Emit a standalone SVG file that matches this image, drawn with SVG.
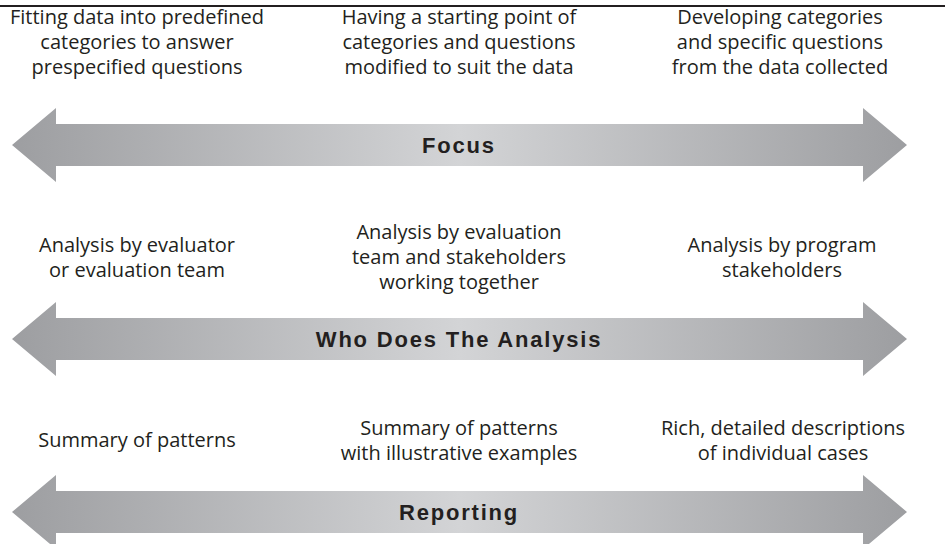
<svg xmlns="http://www.w3.org/2000/svg" width="945" height="544" viewBox="0 0 945 544">
  <defs>
    <linearGradient id="arrowGrad" x1="12" y1="0" x2="907" y2="0" gradientUnits="userSpaceOnUse">
      <stop offset="0" stop-color="#9d9ea1"/>
      <stop offset="0.5" stop-color="#d3d4d6"/>
      <stop offset="1" stop-color="#9d9ea1"/>
    </linearGradient>
  </defs>
  <style>
    .arrow { fill: url(#arrowGrad); }
    .txt { font-family: "Open Sans", "Liberation Sans", sans-serif; font-size: 20px; fill: #231f20; text-anchor: middle; }
    .lbl { font-family: "Liberation Sans", Arial, sans-serif; font-size: 22px; font-weight: bold; fill: #231f20; text-anchor: middle; letter-spacing: 1.8px; }
  </style>
  <rect width="945" height="544" fill="#ffffff"/>
  <line x1="0" y1="6" x2="945" y2="6" stroke="#231f20" stroke-width="2"/>

  <g id="connectors">
    <polygon class="arrow" points="12,145 56,108 56,124 863,124 863,108 907,145 863,182 863,166 56,166 56,182"/>
    <polygon class="arrow" points="12,339 56,302 56,318 863,318 863,302 907,339 863,376 863,360 56,360 56,376"/>
    <polygon class="arrow" points="12,512 56,475 56,491 863,491 863,475 907,512 863,549 863,533 56,533 56,549"/>
  </g>

  <g id="label-focus"><text class="lbl" x="459" y="153">Focus</text></g>
  <g id="label-who"><text class="lbl" x="459" y="347">Who Does The Analysis</text></g>
  <g id="label-reporting"><text class="lbl" x="459" y="520">Reporting</text></g>

  <g id="focus-left">
    <text class="txt" x="137" y="24">Fitting data into predefined</text>
    <text class="txt" x="137" y="49">categories to answer</text>
    <text class="txt" x="137" y="74">prespecified questions</text>
  </g>
  <g id="focus-middle">
    <text class="txt" x="459" y="24">Having a starting point of</text>
    <text class="txt" x="459" y="49">categories and questions</text>
    <text class="txt" x="459" y="74">modified to suit the data</text>
  </g>
  <g id="focus-right">
    <text class="txt" x="780" y="24">Developing categories</text>
    <text class="txt" x="780" y="49">and specific questions</text>
    <text class="txt" x="780" y="74">from the data collected</text>
  </g>

  <g id="who-left">
    <text class="txt" x="137" y="252">Analysis by evaluator</text>
    <text class="txt" x="137" y="277">or evaluation team</text>
  </g>
  <g id="who-middle">
    <text class="txt" x="459" y="239">Analysis by evaluation</text>
    <text class="txt" x="459" y="264">team and stakeholders</text>
    <text class="txt" x="459" y="289">working together</text>
  </g>
  <g id="who-right">
    <text class="txt" x="782" y="252">Analysis by program</text>
    <text class="txt" x="782" y="277">stakeholders</text>
  </g>

  <g id="reporting-left">
    <text class="txt" x="137" y="447">Summary of patterns</text>
  </g>
  <g id="reporting-middle">
    <text class="txt" x="459" y="435">Summary of patterns</text>
    <text class="txt" x="459" y="460">with illustrative examples</text>
  </g>
  <g id="reporting-right">
    <text class="txt" x="783" y="435">Rich, detailed descriptions</text>
    <text class="txt" x="783" y="460">of individual cases</text>
  </g>
</svg>
